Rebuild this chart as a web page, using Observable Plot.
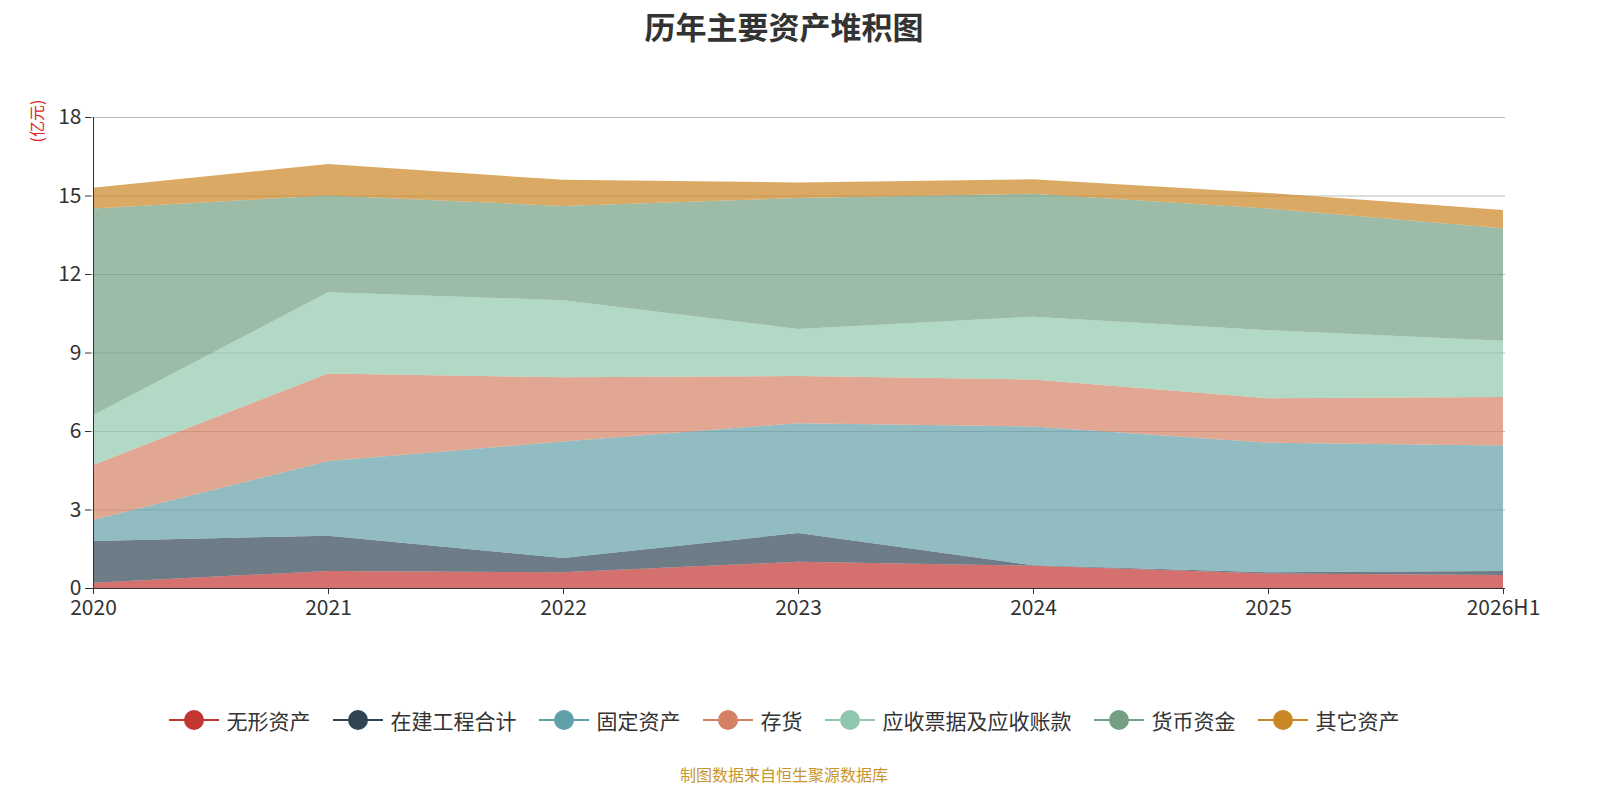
<!DOCTYPE html>
<html><head><meta charset="utf-8">
<script src="https://cdn.jsdelivr.net/npm/d3@7"></script>
<script src="https://cdn.jsdelivr.net/npm/@observablehq/plot@0.6"></script>
<style>
body{margin:0;width:1600px;height:800px;background:#fff;font-family:"Noto Sans CJK SC","Noto Sans",sans-serif;overflow:hidden}
svg{max-width:none!important}
#title{height:60px;line-height:52px;text-align:center;font-size:31px;font-weight:bold;color:#333;width:1568px}
#legend{position:absolute;top:705px;left:0;width:1568px;display:flex;justify-content:center;gap:22px;font-size:21px;color:#333}
.item{display:flex;align-items:center;gap:8px}
#cap{position:absolute;top:762px;width:1568px;text-align:center;font-size:16px;color:#c8962e}
</style></head><body>
<div id="title">历年主要资产堆积图</div>
<div id="chart"></div>
<div id="legend"></div>
<div id="cap">制图数据来自恒生聚源数据库</div>
<script>
const years = ["2020","2021","2022","2023","2024","2025","2026H1"];
const seriesNames = ["无形资产","在建工程合计","固定资产","存货","应收票据及应收账款","货币资金","其它资产"];
const colors = ["#c23531","#2f4554","#61a0a8","#d48265","#91c7ae","#749f83","#ca8622"];
const v无形资产 = [0.2,0.65,0.6,1.0,0.85,0.55,0.5];
const v在建工程合计 = [1.6,1.35,0.55,1.1,0.02,0.05,0.15];
const v固定资产 = [0.8,2.85,4.45,4.2,5.3,4.95,4.8];
const v存货 = [2.1,3.35,2.45,1.8,1.8,1.7,1.85];
const v应收 = [1.9,3.1,2.95,1.8,2.4,2.6,2.15];
const v货币资金 = [7.9,3.7,3.6,5.0,4.7,4.65,4.3];
const v其它资产 = [0.8,1.2,1.0,0.6,0.55,0.6,0.7];
const vals = [v无形资产,v在建工程合计,v固定资产,v存货,v应收,v货币资金,v其它资产];
const data = [];
seriesNames.forEach((s,i)=>years.forEach((y,j)=>data.push({year:y,series:s,value:vals[i][j]})));
const plot = Plot.plot({
  width:1600,height:560,marginTop:57,marginBottom:32,marginLeft:91,marginRight:95,
  style:{fontSize:"20px",color:"#333",fontFamily:"Noto Sans CJK SC, Noto Sans, sans-serif"},
  x:{type:"point",domain:years,padding:0,label:null},
  y:{domain:[0,18],ticks:[0,3,6,9,12,15,18],label:null},
  color:{domain:seriesNames,range:colors},
  marks:[
    Plot.gridY([3,6,9,12,15,18],{stroke:"#bbb",strokeOpacity:1}),
    Plot.areaY(data,{x:"year",y:"value",z:"series",fill:"series",fillOpacity:0.7,order:seriesNames}),
    Plot.ruleY([0],{stroke:"#333"}),
    Plot.ruleX(["2020"],{stroke:"#333"}),
    Plot.axisY({ticks:[0,3,6,9,12,15,18],tickSize:6,tickPadding:4,fontSize:21}),
    Plot.axisX({tickSize:6,fontSize:21,tickPadding:6}),
    Plot.text(["(亿元)"],{frameAnchor:"top-left",dx:-60,dy:25,rotate:-90,fill:"#e02020",fontSize:16})
  ]
});
document.getElementById("chart").appendChild(plot);
const lg=document.getElementById("legend");
seriesNames.forEach((s,i)=>{
  const d=document.createElement("div");d.className="item";
  d.innerHTML=`<svg width="50" height="24"><line x1="0" x2="50" y1="12" y2="12" stroke="${colors[i]}" stroke-width="2"/><circle cx="25" cy="12" r="10" fill="${colors[i]}"/></svg><span>${s}</span>`;
  lg.appendChild(d);
});
</script></body></html>
